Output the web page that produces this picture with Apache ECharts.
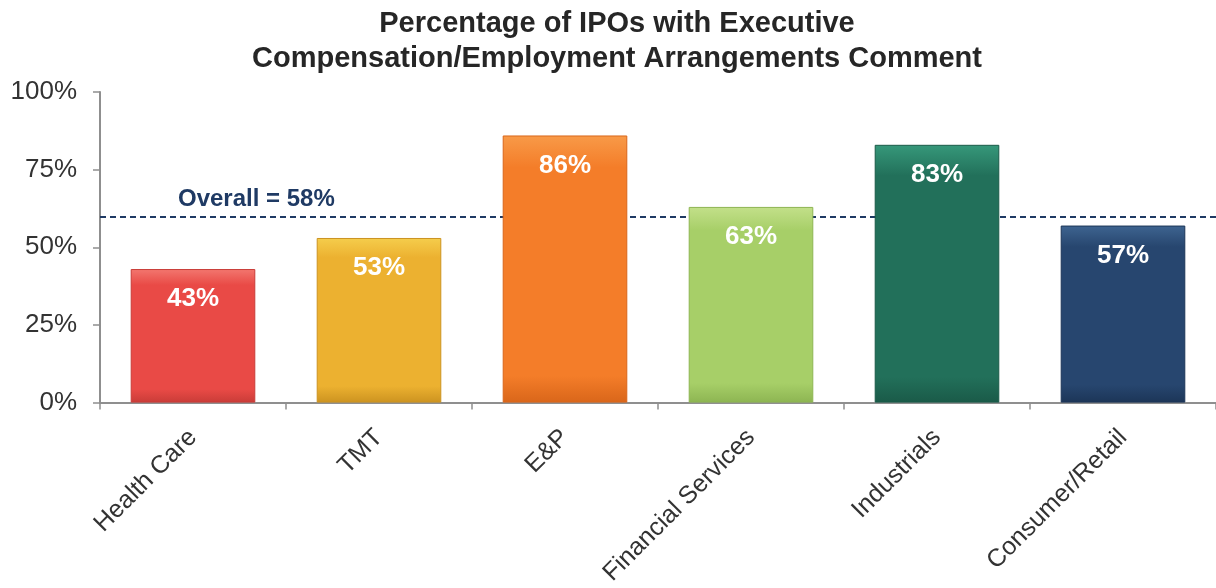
<!DOCTYPE html>
<html>
<head>
<meta charset="utf-8">
<script src="https://cdn.jsdelivr.net/npm/echarts@6/dist/echarts.min.js"></script>
<style>
  html, body { margin: 0; padding: 0; background: #fff; }
  #main { width: 1216px; height: 588px; }
</style>
</head>
<body>
<div id="main"></div>
<script>
// 数据
var categories = ['Health Care', 'TMT', 'E&P', 'Financial Services', 'Industrials', 'Consumer/Retail'];
var values = [43, 53, 86, 63, 83, 57];
var barColors = [
  ['#f2776f', '#e94a46', '#c93c38'],
  ['#f5cd4c', '#ecb130', '#cc9320'],
  ['#f89a48', '#f47d29', '#d9661a'],
  ['#c3e08a', '#a7cf68', '#8db552'],
  ['#36987a', '#22705a', '#1a5a48'],
  ['#3e6490', '#27466f', '#1c3557']
];
var overallLevel = 59.7;   // where the dashed line sits in the picture
var overallText = 'Overall = 58%';
var yTicks = [0, 25, 50, 75, 100];

var myChart = echarts.init(document.getElementById('main'));

var seriesData = values.map(function (v, i) {
  var c = barColors[i];
  return {
    value: v,
    itemStyle: {
      color: new echarts.graphic.LinearGradient(0, 0, 0, 1, [
        { offset: 0, color: c[0] },
        { offset: 0.12, color: c[1] },
        { offset: 0.9, color: c[1] },
        { offset: 1, color: c[2] }
      ]),
      borderColor: c[2],
      borderWidth: 1
    }
  };
});

var option = {
  animation: false,
  textStyle: { fontFamily: 'Liberation Sans, Arial, sans-serif' },
  title: {
    text: 'Percentage of IPOs with Executive\nCompensation/Employment Arrangements Comment',
    left: 612,
    textAlign: 'center',
    top: 1,
    textStyle: {
      fontSize: 29,
      fontWeight: 'bold',
      color: '#262626',
      lineHeight: 35,
      fontFamily: 'Liberation Sans, Arial, sans-serif'
    }
  },
  grid: { left: 100, right: -6, top: 92, bottom: 184 },
  xAxis: {
    type: 'category',
    data: categories,
    axisLine: { lineStyle: { color: '#8f8f8f', width: 2 } },
    axisTick: { show: true, length: 7, alignWithLabel: false, lineStyle: { color: '#8f8f8f', width: 1.5 } },
    axisLabel: {
      rotate: 45,
      interval: 0,
      margin: 31,
      fontSize: 25,
      color: '#333'
    }
  },
  yAxis: {
    type: 'value',
    min: yTicks[0],
    max: yTicks[yTicks.length - 1],
    interval: 25,
    splitLine: { show: false },
    axisLine: { show: true, lineStyle: { color: '#8f8f8f', width: 2 } },
    axisTick: { show: true, length: 7, lineStyle: { color: '#8f8f8f', width: 1.5 } },
    axisLabel: {
      formatter: '{value}%',
      margin: 23,
      fontSize: 26,
      color: '#333'
    }
  },
  series: [{
    type: 'bar',
    data: seriesData,
    barWidth: '67%',
    label: {
      show: true,
      position: 'insideTop',
      distance: 17,
      formatter: '{c}%',
      color: '#fff',
      fontSize: 26,
      fontWeight: 'bold'
    },
    markLine: {
      z: 1,
      silent: true,
      symbol: 'none',
      lineStyle: { color: '#1f3a64', type: [6, 4], width: 2 },
      label: {
        position: 'insideStartTop',
        distance: [78, 6],
        formatter: overallText,
        color: '#1f3a64',
        fontSize: 24,
        fontWeight: 'bold'
      },
      data: [{ yAxis: overallLevel }]
    }
  }]
};

myChart.setOption(option);
</script>
</body>
</html>
